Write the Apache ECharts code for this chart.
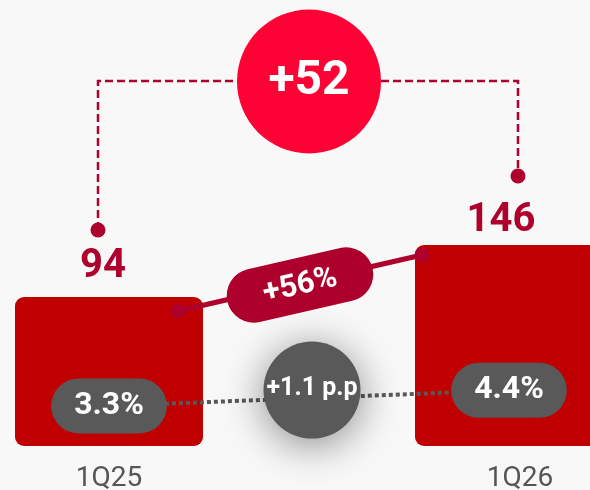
<!DOCTYPE html>
<html>
<head>
<meta charset="utf-8">
<script src="https://cdn.jsdelivr.net/npm/echarts@6/dist/echarts.min.js"></script>
<style>
  html, body { margin: 0; padding: 0; background: #f8f8f8; }
  #chart { width: 590px; height: 490px; }
</style>
</head>
<body>
<div id="chart"></div>
<script>
// Quarterly figures
const categories = ['1Q25', '1Q26'];
const values = [94, 146];
const margins = [3.3, 4.4];   // margin, %
const growthPct = 56;         // reported growth, %

const DARK_RED = '#ad002c';
const BAR_RED = '#c00000';
const BRIGHT_RED = '#fc0235';
const GRAY = '#595959';
const FONT = 'Roboto, "Noto Sans", sans-serif';

// per-bar nudges of the value labels
const barLabelOffsets = [[-6, 0], [-8, 6]];

const chart = echarts.init(document.getElementById('chart'), null, { renderer: 'canvas' });

chart.setOption({
  backgroundColor: '#f8f8f8',
  animation: false,
  grid: { left: -91, width: 800, top: 191, bottom: 44, outerBoundsMode: 'none', containLabel: false },
  xAxis: {
    type: 'category',
    data: categories,
    axisLine: { show: false },
    axisTick: { show: false },
    axisLabel: {
      margin: 19,
      formatter: (v, i) => (i === 0 ? '{a|' : '{b|') + v + '}',
      rich: {
        a: { fontSize: 28, color: '#555555', fontFamily: FONT },
        b: { fontSize: 28, color: '#555555', fontFamily: FONT, padding: [0, 0, 0, 22] }
      }
    }
  },
  yAxis: [
    { type: 'value', min: -55, max: 200, startValue: -55, show: false, splitLine: { show: false } },
    { type: 'value', min: 0.5, max: 18.33, show: false, splitLine: { show: false } }
  ],
  series: [
    {
      type: 'bar',
      data: values.map((v, i) => ({ value: v, label: { offset: barLabelOffsets[i] } })),
      barWidth: 188,
      itemStyle: { color: BAR_RED, borderRadius: 9 },
      label: {
        show: true, position: 'top', distance: 10,
        fontSize: 40, fontWeight: 'bold', color: DARK_RED, fontFamily: FONT
      },
      z: 2
    },
    {
      type: 'line',
      yAxisIndex: 1,
      data: margins,
      symbol: 'circle',
      symbolSize: 1,
      itemStyle: { color: 'transparent' },
      lineStyle: { color: GRAY, width: 4, type: [4, 3] },
      label: {
        show: true, position: 'inside',
        formatter: p => p.value.toFixed(1) + '%',
        fontSize: 32, fontWeight: 'bold', color: '#ffffff', fontFamily: FONT,
        backgroundColor: GRAY, borderRadius: 28, padding: [11, 23], lineHeight: 33
      },
      z: 3
    }
  ]
});

// Annotation layer, positioned through the chart's own scales
const p0 = chart.convertToPixel({ seriesIndex: 0 }, [0, values[0]]);
const p1 = chart.convertToPixel({ seriesIndex: 0 }, [1, values[1]]);
const m0 = chart.convertToPixel({ seriesIndex: 1 }, [0, margins[0]]);
const m1 = chart.convertToPixel({ seriesIndex: 1 }, [1, margins[1]]);

const bracketY = 81;
const dotL = [p0[0] - 11, p0[1] - 67];
const dotR = [p1[0] + 9, p1[1] - 69];
const centerX = (p0[0] + p1[0]) / 2;

const gA = [p0[0] + 69, p0[1] + 14];
const gB = [p1[0] - 87, p1[1] + 10];
const gMid = [(gA[0] + gB[0]) / 2, (gA[1] + gB[1]) / 2 + 2];
const gAngle = Math.atan2(gA[1] - gB[1], gB[0] - gA[0]);

const mMid = [(m0[0] + m1[0]) / 2 + 3, (m0[1] + m1[1]) / 2 - 8];

const diff = values[1] - values[0];
const ppDiff = (margins[1] - margins[0]).toFixed(1);

function label(text, x, y, size, z) {
  return {
    type: 'text', x: x, y: y, z: z,
    style: {
      text: text, fill: '#ffffff', font: 'bold ' + size + 'px ' + FONT,
      align: 'center', verticalAlign: 'middle'
    }
  };
}

chart.setOption({
  graphic: [
    {
      type: 'polyline', z: 10,
      shape: { points: [dotL, [dotL[0], bracketY], [dotR[0], bracketY], dotR] },
      style: { stroke: DARK_RED, lineWidth: 2.5, lineDash: [8, 4], fill: null }
    },
    { type: 'circle', z: 11, shape: { cx: dotL[0], cy: dotL[1], r: 7.5 }, style: { fill: DARK_RED } },
    { type: 'circle', z: 11, shape: { cx: dotR[0], cy: dotR[1], r: 7.5 }, style: { fill: DARK_RED } },
    { type: 'circle', z: 12, shape: { cx: centerX, cy: bracketY + 0.5, r: 72 }, style: { fill: BRIGHT_RED } },
    label('+' + diff, centerX, bracketY + 1, 48, 13),

    {
      type: 'line', z: 10,
      shape: { x1: gA[0], y1: gA[1], x2: gB[0], y2: gB[1] },
      style: { stroke: DARK_RED, lineWidth: 5 }
    },
    { type: 'circle', z: 11, shape: { cx: gA[0], cy: gA[1], r: 7.5 }, style: { fill: DARK_RED } },
    { type: 'circle', z: 11, shape: { cx: gB[0], cy: gB[1], r: 7.5 }, style: { fill: DARK_RED } },
    {
      type: 'group', x: gMid[0], y: gMid[1], rotation: gAngle, z: 12,
      children: [
        { type: 'rect', z: 12, shape: { x: -74.5, y: -27, width: 149, height: 54, r: [27, 27, 27, 27] }, style: { fill: DARK_RED } },
        label('+' + growthPct + '%', 0, 1, 31, 13)
      ]
    },

    {
      type: 'circle', z: 20,
      shape: { cx: mMid[0], cy: mMid[1], r: 48.5 },
      style: { fill: GRAY, shadowBlur: 40, shadowColor: 'rgba(0,0,0,0.45)', shadowOffsetY: 6 }
    },
    label('+' + ppDiff + ' p.p', mMid[0], mMid[1] - 1, 25, 21)
  ]
});
</script>
</body>
</html>
